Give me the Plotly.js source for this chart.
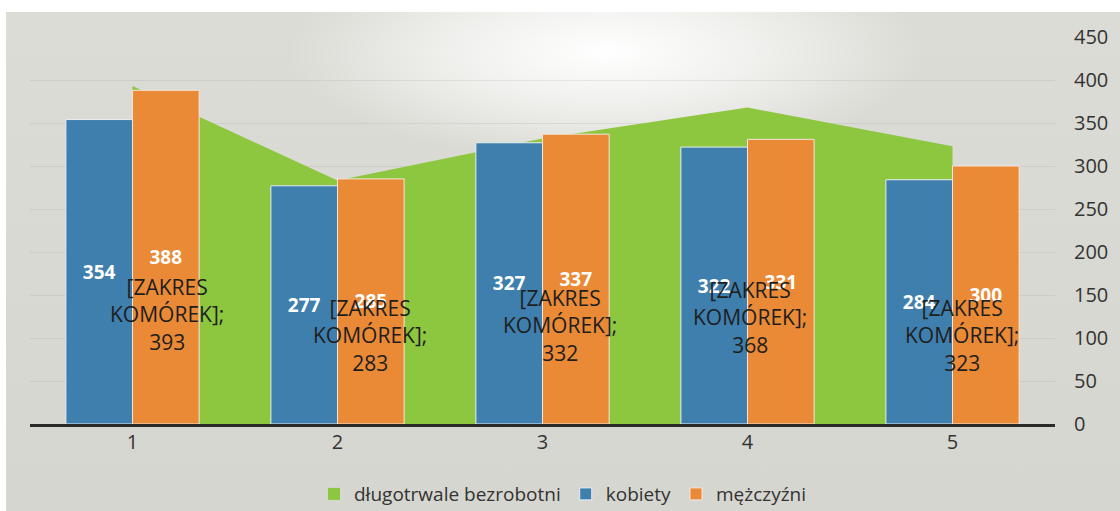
<!DOCTYPE html>
<html>
<head>
<meta charset="utf-8">
<script src="https://cdn.plot.ly/plotly-3.0.1.min.js"></script>
<style>
  html, body { margin: 0; padding: 0; background: #ffffff; }
  #bg {
    position: absolute; left: 6px; top: 12px; width: 1114px; height: 499px;
    background:
      radial-gradient(ellipse 320px 110px at 600px 40px, rgba(255,255,255,1) 0%, rgba(255,255,255,0.6) 45%, rgba(255,255,255,0) 100%),
      linear-gradient(180deg, #dcdcd6 0%, #d6d6d0 100%);
  }
  #chart { position: absolute; left: 0; top: 0; width: 1120px; height: 511px; }
</style>
</head>
<body>
<div id="bg"></div>
<div id="chart"></div>
<script>
// ---- data ----
const categories = ['1', '2', '3', '4', '5'];
const longTermUnemployed = [393, 283, 332, 368, 323]; // długotrwale bezrobotni
const women = [354, 277, 327, 322, 284];              // kobiety
const men = [388, 285, 337, 331, 300];                // mężczyźni
const seriesNames = ['długotrwale bezrobotni', 'kobiety', 'mężczyźni'];
const yTickValues = [0, 50, 100, 150, 200, 250, 300, 350, 400, 450];

// ---- label placement (layout only) ----
const areaLabelY = [127, 103, 115, 124, 103];
const areaLabelShift = [34, 32, 17, 2, 9];

const font = 'Open Sans, Noto Sans, sans-serif';
const barLabelFont = { family: font, size: 19, color: '#ffffff', weight: 'bold' };
const green = '#8dc63f', blue = '#3e7fae', orange = '#ea8a36';

const traces = [
  { // legend entry for the area (square swatch)
    type: 'bar', name: seriesNames[0], x: [categories[0]], y: [null],
    xaxis: 'x', yaxis: 'y', marker: { color: green }, hoverinfo: 'skip'
  },
  {
    type: 'scatter', mode: 'lines', name: seriesNames[0], showlegend: false,
    x: categories, y: longTermUnemployed, xaxis: 'x', yaxis: 'y',
    fill: 'tozeroy', fillcolor: green,
    line: { width: 0, color: green }, hoverinfo: 'skip'
  },
  {
    type: 'bar', name: seriesNames[1], x: categories, y: women,
    xaxis: 'x2', yaxis: 'y2',
    marker: { color: blue, line: { color: '#e8eef2', width: 1 } },
    text: women.map(String), textposition: 'inside', insidetextanchor: 'middle',
    textangle: 0, constraintext: 'none', textfont: barLabelFont
  },
  {
    type: 'bar', name: seriesNames[2], x: categories, y: men,
    xaxis: 'x2', yaxis: 'y2',
    marker: { color: orange, line: { color: '#f3e6dc', width: 1 } },
    text: men.map(String), textposition: 'inside', insidetextanchor: 'middle',
    textangle: 0, constraintext: 'none', textfont: barLabelFont
  }
];

const annotations = categories.map((c, i) => ({
  x: i, y: areaLabelY[i], xref: 'x2', yref: 'y2',
  xshift: areaLabelShift[i],
  text: '[ZAKRES<br>KOMÓREK];<br>' + longTermUnemployed[i],
  showarrow: false, yanchor: 'middle', xanchor: 'center', align: 'center',
  font: { family: font, size: 21, color: '#1e1e1e' }
}));

const tickFont = { family: font, size: 20, color: '#333333' };

const layout = {
  width: 1120, height: 511,
  margin: { l: 30, r: 65, t: 37, b: 87, autoexpand: false },
  paper_bgcolor: 'rgba(0,0,0,0)', plot_bgcolor: 'rgba(0,0,0,0)',
  barmode: 'group', bargap: 0.35, bargroupgap: 0,
  showlegend: true,
  legend: {
    orientation: 'h', x: 0.52, xanchor: 'center', y: -0.181, yanchor: 'middle',
    font: { family: font, size: 19, color: '#333333' },
    traceorder: 'normal', bgcolor: 'rgba(0,0,0,0)'
  },
  xaxis: {
    type: 'category', range: [-0.5, 4.5],
    showline: false, showgrid: false, zeroline: false, ticks: '',
    ticklabelstandoff: 4, tickfont: tickFont
  },
  yaxis: {
    side: 'right', range: [0, 450], tickvals: yTickValues,
    showgrid: true, gridcolor: 'rgba(150,150,150,0.18)', gridwidth: 1,
    zeroline: false, showline: false, ticks: '',
    ticklabelstandoff: 18, tickfont: tickFont
  },
  xaxis2: {
    type: 'category', range: [-0.5, 4.5], overlaying: 'x', anchor: 'y2',
    showline: true, linecolor: '#2a2a2a', linewidth: 3,
    showgrid: false, zeroline: false, ticks: '', showticklabels: false
  },
  yaxis2: {
    overlaying: 'y', side: 'right', range: [0, 450],
    showgrid: false, zeroline: false, showline: false, ticks: '', showticklabels: false
  },
  annotations: annotations,
  font: { family: font }
};

Plotly.newPlot('chart', traces, layout, { staticPlot: true, displayModeBar: false });
</script>
</body>
</html>
